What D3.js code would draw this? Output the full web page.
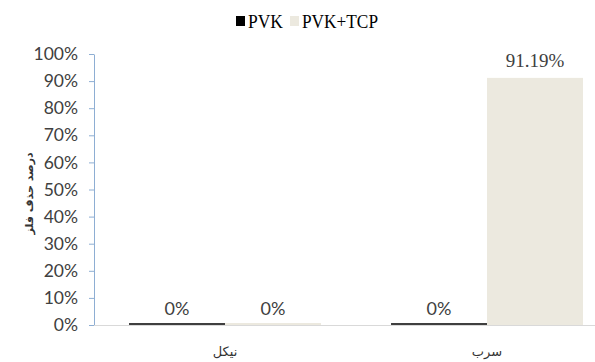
<!DOCTYPE html>
<html>
<head>
<meta charset="utf-8">
<script src="https://cdn.jsdelivr.net/npm/d3@7"></script>
<style>
  html, body { margin: 0; padding: 0; background: #fff; }
  svg { display: block; }
</style>
</head>
<body>
<svg id="chart" width="595" height="362"></svg>
<script>
// Metal removal percentage by adsorbent
const categories = ["نیکل", "سرب"];
const seriesNames = ["PVK", "PVK+TCP"];
const pvkValues = [0, 0];
const pvkTcpValues = [0, 91.19];
const valueLabels = [["0%", "0%"], ["0%", "91.19%"]];
const yTicks = [0, 10, 20, 30, 40, 50, 60, 70, 80, 90, 100];
const yTitle = "درصد حذف فلز";
const seriesColors = ["#3f3f3f", "#ece9df"];

const svg = d3.select("#chart");
const margin = { left: 94, top: 54, bottom: 325 };
const plotRight = 618;

const x0 = d3.scaleBand().domain(categories).range([margin.left, plotRight]).paddingInner(0).paddingOuter(0);
const x1 = d3.scaleBand().domain(seriesNames).range([0, x0.bandwidth()]).paddingInner(0).paddingOuter(0.365);
const y = d3.scaleLinear().domain([0, 100]).range([margin.bottom, margin.top]);

const seriesValues = [pvkValues, pvkTcpValues];

// Bars and value labels
categories.forEach((cat, ci) => {
  seriesNames.forEach((s, si) => {
    const v = seriesValues[si][ci];
    const bx = x0(cat) + x1(s);
    const h = Math.max(y(0) - y(v), v === 0 ? 2 : 0);
    svg.append("rect")
      .attr("x", bx)
      .attr("y", y(0) - h)
      .attr("width", x1.bandwidth())
      .attr("height", h)
      .attr("fill", seriesColors[si]);
    const isSerif = v > 0;
    svg.append("text")
      .attr("x", bx + x1.bandwidth() / 2)
      .attr("y", y(v) - (v > 0 ? 11 : 10))
      .attr("text-anchor", "middle")
      .attr("font-family", isSerif ? "Liberation Serif, serif" : "Lato, Carlito, sans-serif")
      .attr("font-size", isSerif ? 19 : 18)
      .attr("fill", "#404040")
      .text(valueLabels[ci][si]);
  });
});

// Y axis
const yAxis = d3.axisLeft(y).tickValues(yTicks).tickFormat(d => d + "%").tickSize(5).tickSizeOuter(0);
const gy = svg.append("g").attr("transform", `translate(${margin.left},0)`).call(yAxis);
gy.select(".domain").attr("stroke", "#8eaed3");
gy.selectAll(".tick line").attr("stroke", "#8eaed3");
gy.selectAll(".tick text")
  .attr("x", -16)
  .attr("font-family", "Lato, Carlito, sans-serif")
  .attr("font-size", 17.5)
  .attr("fill", "#404040");

// X axis baseline
svg.append("line")
  .attr("x1", margin.left).attr("x2", plotRight)
  .attr("y1", y(0) + 0.5).attr("y2", y(0) + 0.5)
  .attr("stroke", "#d9d9d9");

// Category labels
svg.selectAll(".cat")
  .data(categories)
  .join("text")
  .attr("class", "cat")
  .attr("x", d => x0(d) + x0.bandwidth() / 2)
  .attr("y", 356)
  .attr("text-anchor", "middle")
  .attr("font-family", "DejaVu Sans, Noto Sans, sans-serif")
  .attr("font-size", 13)
  .attr("fill", "#333")
  .text(d => d);

// Y axis title
svg.append("text")
  .attr("transform", `translate(33,${(y(0) + y(100)) / 2 + 4}) rotate(-90)`)
  .attr("text-anchor", "middle")
  .attr("font-family", "DejaVu Sans, Noto Sans, sans-serif")
  .attr("font-size", 11)
  .attr("font-weight", "bold")
  .attr("fill", "#333")
  .text(yTitle);

// Legend
const legend = svg.append("g").attr("transform", "translate(236,16)");
const legendX = [0, 54];
const legendTextWidth = [35, 76];
seriesNames.forEach((s, i) => {
  legend.append("rect")
    .attr("x", legendX[i]).attr("y", 0)
    .attr("width", 9).attr("height", 10)
    .attr("fill", i === 0 ? "#000" : seriesColors[1]);
  legend.append("text")
    .attr("x", legendX[i] + 12).attr("y", 12)
    .attr("font-family", "Liberation Serif, serif")
    .attr("font-size", 18)
    .attr("textLength", legendTextWidth[i])
    .attr("lengthAdjust", "spacingAndGlyphs")
    .attr("fill", "#000")
    .text(s);
});
</script>
</body>
</html>
